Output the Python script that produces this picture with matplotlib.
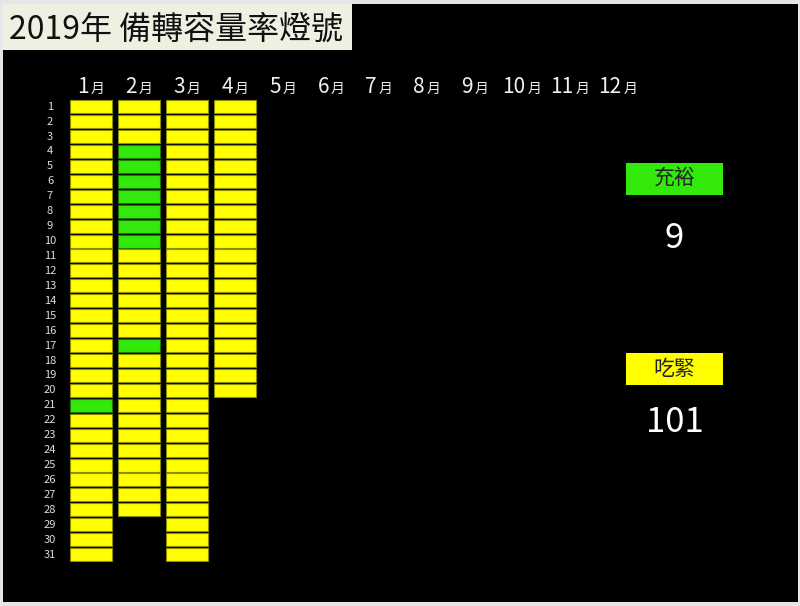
import matplotlib
matplotlib.use('Agg')
import matplotlib.pyplot as plt
from matplotlib.patches import Rectangle

plt.rcParams['font.family'] = ['Noto Sans CJK TC', 'DejaVu Sans']

# --- data ---------------------------------------------------------------
title = '2019年 備轉容量率燈號'
months = list(range(1, 13))
month_labels = [str(m) for m in months]
# day-by-day light per month: G = 充裕 (green), Y = 吃緊 (yellow)
jan_status = 'YYYYYYYYYYYYYYYYYYYYGYYYYYYYYYY'
feb_status = 'YYYGGGGGGGYYYYYYGYYYYYYYYYYY'
mar_status = 'YYYYYYYYYYYYYYYYYYYYYYYYYYYYYYY'
apr_status = 'YYYYYYYYYYYYYYYYYYYY'
status_by_month = [jan_status, feb_status, mar_status, apr_status]
days = list(range(1, 32))
legend_names = ['充裕', '吃緊']

GREEN = '#33e80b'
YELLOW = '#ffff00'
colors = {'G': GREEN, 'Y': YELLOW}
edges = {'G': '#1d7a06', 'Y': '#8c8c00'}

W, H = 800, 606
fig = plt.figure(figsize=(W / 100, H / 100), dpi=100, facecolor='#e6e6e6')

# background panel in pixel coordinates
bg = fig.add_axes([0, 0, 1, 1])
bg.set_xlim(0, W)
bg.set_ylim(H, 0)
bg.axis('off')
bg.add_patch(Rectangle((3, 4), 795, 598, facecolor='black', edgecolor='none'))
bg.add_patch(Rectangle((3, 4), 349, 46, facecolor='#eef0e2', edgecolor='none'))
bg.text(9, 39, title, fontsize=23, weight='medium', color='#111111',
        va='baseline', ha='left')

# grid of lights: x = month, y = day
ax = fig.add_axes([67 / W, 1 - 562.1 / H, 576 / W, 462.9 / H])
ax.set_xlim(0.5, 12.5)
ax.set_ylim(31.5, 0.5)
ax.axis('off')

for m, status in zip(months, status_by_month):
    for d, s in zip(days, status):
        ax.bar(m, 0.87, bottom=d - 0.435, width=0.855,
               color=colors[s], edgecolor=edges[s], linewidth=0.8)

for m, lab in zip(months, month_labels):
    dx = (len(lab) * 9 - 13) / 2 / 48
    ax.text(m + dx, 0.09, lab, fontsize=15, color='#f0f0f0',
            ha='right', va='baseline', clip_on=False)
    ax.text(m + dx + 0.04, 0.09, '月', fontsize=10, color='#f0f0f0',
            ha='left', va='baseline', clip_on=False)

for d in days:
    ax.text(0.146, d, str(d), fontsize=8, color='#dddddd',
            ha='center', va='center', clip_on=False)

# counts
all_status = ''.join(status_by_month)
counts = [all_status.count('G'), all_status.count('Y')]

# legend boxes
for name, cnt, col, y0, yn in zip(legend_names, counts, [GREEN, YELLOW],
                                   [163, 353], [238, 423]):
    bg.add_patch(Rectangle((626, y0), 97, 32, facecolor=col, edgecolor='none'))
    bg.text(674.5, y0 + 16, name, fontsize=15, color='#222222',
            ha='center', va='center')
    bg.text(674.5, yn, str(cnt), fontsize=25, color='white',
            ha='center', va='center')

fig.savefig('out.png', dpi=100, facecolor=fig.get_facecolor())
